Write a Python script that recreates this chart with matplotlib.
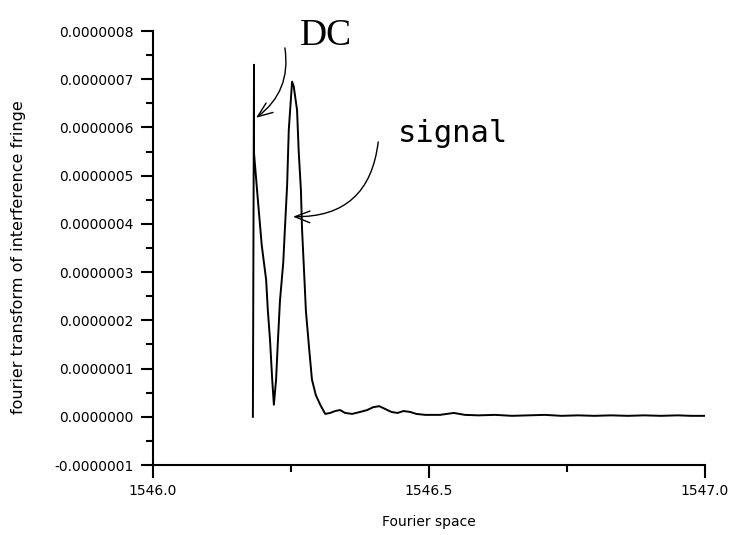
"""Fourier transform of the interference fringe, with DC and signal peaks."""

import matplotlib.pyplot as plt
from matplotlib.ticker import MultipleLocator, FuncFormatter

# spectrum (x in fourier space, y = transform amplitude)
fourier_x = [1546.181, 1546.183, 1546.183, 1546.190, 1546.197, 1546.205,
             1546.208, 1546.212, 1546.216, 1546.219, 1546.223, 1546.226,
             1546.230, 1546.236, 1546.239, 1546.243, 1546.246, 1546.252,
             1546.255, 1546.261, 1546.264, 1546.268, 1546.270, 1546.274,
             1546.277, 1546.283, 1546.288, 1546.295, 1546.303, 1546.312,
             1546.321, 1546.330, 1546.339, 1546.348, 1546.361, 1546.375,
             1546.388, 1546.399, 1546.410, 1546.421, 1546.432, 1546.443,
             1546.454, 1546.466, 1546.477, 1546.493, 1546.520, 1546.545,
             1546.565, 1546.590, 1546.620, 1546.650, 1546.680, 1546.710,
             1546.740, 1546.770, 1546.800, 1546.830, 1546.860, 1546.890,
             1546.920, 1546.950, 1546.975, 1547.000]
fourier_y = [0.0, 7.30e-7, 5.47e-7, 4.50e-7, 3.56e-7, 2.84e-7,
             2.22e-7, 1.60e-7, 0.77e-7, 0.25e-7, 0.77e-7, 1.50e-7,
             2.40e-7, 3.20e-7, 3.90e-7, 4.80e-7, 5.95e-7, 6.95e-7,
             6.85e-7, 6.36e-7, 5.50e-7, 4.70e-7, 3.90e-7, 2.94e-7,
             2.20e-7, 1.40e-7, 0.77e-7, 0.45e-7, 0.25e-7, 0.06e-7,
             0.08e-7, 0.12e-7, 0.14e-7, 0.08e-7, 0.06e-7, 0.10e-7,
             0.14e-7, 0.20e-7, 0.22e-7, 0.16e-7, 0.10e-7, 0.08e-7,
             0.12e-7, 0.10e-7, 0.06e-7, 0.04e-7, 0.04e-7, 0.08e-7,
             0.04e-7, 0.03e-7, 0.04e-7, 0.02e-7, 0.03e-7, 0.04e-7,
             0.02e-7, 0.03e-7, 0.02e-7, 0.03e-7, 0.02e-7, 0.03e-7,
             0.02e-7, 0.03e-7, 0.02e-7, 0.02e-7]

fig = plt.figure(figsize=(7.33, 5.35), dpi=100, facecolor='w')
ax = fig.add_axes([0.2087, 0.1308, 0.7531, 0.8112])

ax.plot(fourier_x, fourier_y, color='k', lw=1.4)

ax.set_xlim(1546.0, 1547.0)
ax.set_ylim(-1e-7, 8e-7)
ax.xaxis.set_major_locator(MultipleLocator(0.5))
ax.xaxis.set_minor_locator(MultipleLocator(0.25))
ax.yaxis.set_major_locator(MultipleLocator(1e-7))
ax.yaxis.set_minor_locator(MultipleLocator(0.5e-7))
ax.xaxis.set_major_formatter(FuncFormatter(lambda v, p: f"{v:.1f}"))
ax.yaxis.set_major_formatter(FuncFormatter(lambda v, p: f"{v:.7f}"))
ax.tick_params(which='major', direction='out', length=9, width=1.5,
               labelsize=10, pad=5)
ax.tick_params(which='minor', direction='out', length=5, width=1.5)

for spine in ('top', 'right'):
    ax.spines[spine].set_visible(False)
for spine in ('left', 'bottom'):
    ax.spines[spine].set_linewidth(1.5)

ax.set_xlabel('Fourier space', fontsize=10)
ax.set_ylabel('fourier transform of interference fringe', fontsize=11.5)
ax.xaxis.set_label_coords(0.5, -0.115)
ax.yaxis.set_label_coords(-0.23, 0.48)

# hand-drawn style pointers
arrow = dict(arrowstyle='->, head_length=0.9, head_width=0.35', color='k',
             lw=1.0, mutation_scale=12, shrinkA=0, shrinkB=0)
ax.annotate('', xy=(1546.1866, 6.2e-7), xytext=(1546.239, 7.65e-7),
            arrowprops=dict(arrow, connectionstyle='arc3,rad=-0.3'),
            annotation_clip=False)
ax.annotate('', xy=(1546.2536, 4.15e-7), xytext=(1546.408, 5.7e-7),
            arrowprops=dict(arrow, connectionstyle='arc3,rad=-0.45'),
            annotation_clip=False)
ax.text(1546.266, 7.70e-7, 'DC', family='Liberation Serif', fontsize=27,
        clip_on=False)
ax.text(1546.444, 5.70e-7, 'signal', family='DejaVu Sans Mono', fontsize=22,
        clip_on=False)

plt.savefig('out.png', dpi=100, facecolor='w')
